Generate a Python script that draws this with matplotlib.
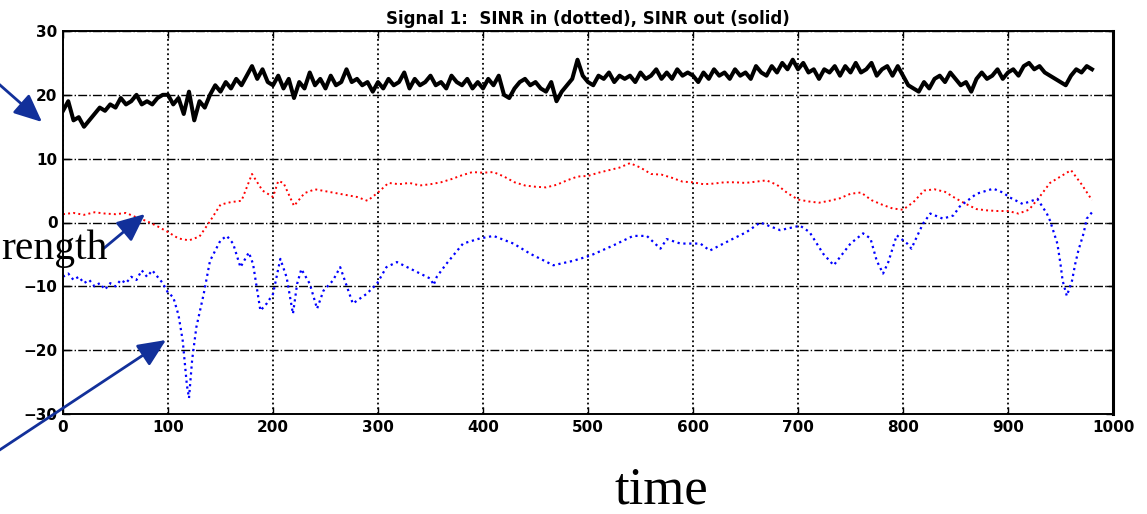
import matplotlib.pyplot as plt
import numpy as np

# SINR out (solid, black) - one value every 5 time steps
sinr_out = [
    17.5, 19, 16, 16.5, 15, 16, 17, 18, 17.5, 18.5, 18, 19.5, 18.5, 19, 20, 18.5, 19, 18.5, 19.5, 20,
    20, 18.5, 19.5, 17, 20.5, 16, 19, 18, 20, 21.5, 20.5, 22, 21, 22.5, 21.5, 23, 24.5, 22.5, 24, 22,
    21.5, 23, 21, 22.5, 19.5, 22, 21, 23.5, 21.5, 22.5, 21, 23, 21.5, 22, 24, 22, 22.5, 21.5, 22, 20.5,
    22, 21, 22.5, 21.5, 22, 23.5, 21, 22.5, 21.5, 22, 23, 21.5, 22, 21, 23, 22, 21.5, 22.5, 21, 22,
    21, 22.5, 21.5, 23, 20, 19.5, 21, 22, 22.5, 21.5, 22, 21, 20.5, 22, 19, 20.5, 21.5, 22.5, 25.5, 23,
    22, 21.5, 23, 22.5, 23.5, 22, 23, 22.5, 23, 22, 23.5, 22.5, 23, 24, 22.5, 23.5, 22.5, 24, 23, 23.5,
    23, 22, 23.5, 22.5, 24, 23, 23.5, 22.5, 24, 23, 23.5, 22.5, 24.5, 23.5, 23, 24.5, 23.5, 25, 24, 25.5,
    24, 25, 23.5, 24, 22.5, 24, 23.5, 24.5, 23, 24.5, 23.5, 25, 23.5, 24, 25, 23, 24, 24.5, 23, 24.5,
    23, 21.5, 21, 20.5, 22, 21, 22.5, 23, 22, 23.5, 22.5, 21.5, 22, 20.5, 22.5, 23.5, 22.5, 23, 24, 22.5,
    23.5, 24, 23, 24.5, 25, 24, 24.5, 23.5, 23, 22.5, 22, 21.5, 23, 24, 23.5, 24.5, 24,
]
out_step = 5

# SINR in, signal (dotted, red)
red_t = [0, 10, 20, 30, 40, 50, 60, 70, 80, 90, 100, 110, 120, 130, 140, 150, 160, 170, 180, 190,
         200, 205, 210, 220, 230, 240, 250, 260, 270, 280, 290, 300, 310, 320, 330, 340, 350, 360, 370, 380,
         390, 400, 410, 420, 430, 440, 450, 460, 470, 480, 490, 500, 510, 520, 530, 540, 550, 560, 570, 580,
         590, 600, 610, 620, 630, 640, 650, 660, 670, 680, 690, 700, 710, 720, 730, 740, 750, 760, 770, 780,
         790, 800, 810, 820, 830, 840, 850, 860, 870, 880, 890, 900, 910, 920, 930, 940, 950, 960, 970, 980]
red_db = [1.3, 1.5, 1.2, 1.6, 1.4, 1.3, 1.5, 0.8, 0.2, -0.6, -1.5, -2.5, -2.8, -2.2, 0.2, 2.8, 3.2, 3.4, 7.6, 5,
          4, 6.5, 6.2, 2.6, 4.6, 5.2, 4.9, 4.6, 4.3, 4, 3.4, 4.7, 6.2, 6, 6.2, 5.8, 6, 6.3, 6.8, 7.4,
          7.9, 7.8, 7.9, 7.2, 6.3, 5.8, 5.6, 5.5, 5.9, 6.6, 7.2, 7.3, 7.8, 8.2, 8.6, 9.3, 8.6, 7.6, 7.5, 7.0,
          6.4, 6.3, 6.0, 6.1, 6.3, 6.3, 6.2, 6.4, 6.6, 5.9, 4.6, 3.6, 3.3, 3.1, 3.4, 3.8, 4.5, 4.7, 3.5, 2.8,
          2.2, 2.0, 3.2, 5.0, 5.2, 4.8, 3.8, 2.9, 2.1, 1.9, 1.8, 1.8, 1.4, 2.0, 4.0, 6.2, 7.2, 8.2, 6.0, 3.5]

# SINR in, second source (dotted, blue)
blue_t = [0, 5, 10, 15, 20, 25, 30, 35, 40, 45, 50, 55, 60, 65, 70, 75, 80, 85, 90, 95,
          100, 105, 110, 114, 118, 120, 123, 127, 134, 140, 150, 156, 162, 169, 177, 181, 188, 194, 200, 207,
          213, 219, 223, 227, 235, 242, 248, 257, 264, 276, 289, 299, 308, 318, 334, 350, 353, 356, 365, 381,
          397, 410, 429, 445, 467, 486, 502, 524, 543, 556, 569, 575, 588, 607, 616, 635, 651, 664, 683, 702,
          711, 724, 734, 750, 762, 769, 775, 781, 786, 794, 804, 808, 813, 819, 826, 838, 848, 854, 870, 886,
          895, 902, 914, 928, 937, 940, 947, 950, 952, 956, 961, 964, 967, 972, 975, 980]
blue_db = [-8.5, -8, -9, -8.5, -9.5, -9, -10, -9.5, -10.5, -9.5, -10, -9, -9.5, -8.5, -9, -7.5, -8.5, -7.5, -8.5, -9.5,
           -11, -11.7, -14.5, -18.5, -25.5, -27.5, -21.5, -16.4, -11.2, -6, -2.8, -2.1, -3.3, -7, -4.7, -6.5, -13.8, -12.7, -11.2, -5.7,
           -8.6, -14.3, -9.6, -7.3, -9.6, -13.5, -10.7, -9.1, -7, -12.7, -11.2, -9.6, -7, -6.2, -7.5, -8.8, -9.8, -8.5, -6.5, -3.3,
           -2.5, -2.1, -3.3, -4.9, -6.7, -6, -5.2, -3.6, -2.1, -2.1, -4.1, -2.6, -3.3, -3.3, -4.4, -2.8, -1.5, 0, -1.2, -0.5,
           -1.5, -4.9, -6.7, -3.3, -1.7, -2.5, -6, -8, -6.2, -2, -3.3, -4.1, -2.3, -0.2, 1.4, 0.6, 1.1, 2.5, 4.5, 5.3,
           4.7, 3.9, 2.9, 3.7, 1.4, 0.3, -3.3, -6.5, -9.1, -11.5, -9.1, -6.5, -4.4, -1.7, 0.6, 1.6]

x_ticks = [0, 100, 200, 300, 400, 500, 600, 700, 800, 900, 1000]
y_ticks = [-30, -20, -10, 0, 10, 20, 30]

W, H = 1147, 514
fig = plt.figure(figsize=(W / 100, H / 100), dpi=100)
ax = fig.add_axes([63 / W, 1 - 414 / H, 1050 / W, 383 / H])

out_t = np.arange(len(sinr_out)) * out_step
ax.plot(out_t, sinr_out, color="black", linewidth=2.9)
ax.plot(red_t, red_db, color="red", linestyle=":", linewidth=1.4)
ax.plot(blue_t, blue_db, color="blue", linestyle=":", linewidth=1.6)

ax.set_xlim(0, 1000)
ax.set_ylim(-30, 30)
ax.set_xticks(x_ticks)
ax.set_yticks(y_ticks)
ax.xaxis.grid(True, linestyle=":", color="black", linewidth=1.3)
ax.yaxis.grid(True, linestyle="-.", color="black", linewidth=1.0)
ax.tick_params(direction="in", top=True, right=True, length=5, width=1,
               labelsize=11, pad=4)
for lab in ax.get_xticklabels() + ax.get_yticklabels():
    lab.set_fontweight("bold")
for s in ax.spines.values():
    s.set_linewidth(1.4)
ax.spines["right"].set_linewidth(2.2)

ax.set_title("Signal 1:  SINR in (dotted), SINR out (solid)", fontsize=12,
             fontweight="bold", pad=5)

# overlaid annotation (arrows and slide text)
navy = "#12309a"
arrow = dict(arrowstyle="-|>,head_length=0.85,head_width=0.38", color=navy,
             linewidth=2, mutation_scale=20, shrinkA=0, shrinkB=0)
ax.annotate("", xy=(42, H - 122), xytext=(-8, H - 78),
            xycoords="figure pixels", textcoords="figure pixels", arrowprops=arrow)
ax.annotate("", xy=(145, H - 214), xytext=(103, H - 249),
            xycoords="figure pixels", textcoords="figure pixels", arrowprops=arrow)
ax.annotate("", xy=(166, H - 340), xytext=(-8, H - 455),
            xycoords="figure pixels", textcoords="figure pixels", arrowprops=arrow)

fig.text(1 / W, 1 - 259 / H, "rength", family="Liberation Serif", fontsize=30,
         ha="left", va="baseline")
fig.text(661 / W, 1 - 503 / H, "time", family="Liberation Serif", fontsize=38,
         ha="center", va="baseline")

fig.savefig("out.png", dpi=100)
